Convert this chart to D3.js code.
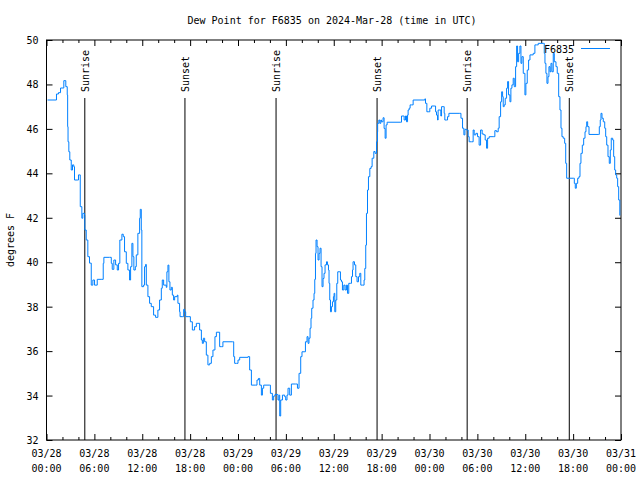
<!DOCTYPE html>
<html><head><meta charset="utf-8">
<script src="https://cdn.jsdelivr.net/npm/d3@7"></script>
<style>
body{margin:0;background:#fff;}
svg text{font-family:"DejaVu Sans Mono",monospace;font-size:10px;fill:#000;}
</style></head>
<body><svg id="c" width="640" height="480"></svg>
<script>
const title = "Dew Point for F6835 on 2024-Mar-28 (time in UTC)";
const seriesName = "F6835";
const yLabel = "degrees F";
const startISO = "2024-03-28T00:00:00Z";
const yTicks = [32,34,36,38,40,42,44,46,48,50];
// hours since 03/28 00:00 UTC
const hours = [0.13,1.22,1.25,1.5,1.76,2.17,2.42,2.6,2.65,2.7,2.8,2.92,3.1,3.26,3.42,3.51,3.85,4.01,4.18,4.23,4.43,4.55,4.77,4.8,4.98,5.18,5.39,5.61,5.81,6.02,6.36,6.94,7.11,7.19,7.9,8.12,8.24,8.44,8.66,8.87,9.03,9.19,9.45,9.62,9.78,10.0,10.2,10.41,10.54,10.7,10.83,10.95,11.13,11.25,11.45,11.67,11.75,11.88,11.95,12.17,12.29,12.42,12.51,12.71,12.92,13.13,13.42,13.67,13.96,14.17,14.39,14.51,14.68,15.01,15.09,15.22,15.34,15.47,15.64,15.77,15.93,16.06,16.39,16.47,16.68,16.74,17.02,17.19,17.31,17.44,17.85,18.03,18.28,18.56,18.78,18.98,19.19,19.41,19.53,19.66,19.82,20.03,20.23,20.45,20.66,20.86,21.11,21.29,21.49,21.7,21.91,22.11,23.29,23.46,23.58,23.8,24.0,24.21,25.25,25.46,25.68,26.22,26.38,26.56,26.72,26.93,27.06,27.22,27.97,28.06,28.31,28.47,28.64,28.91,29.01,29.14,29.23,29.35,29.57,29.85,29.98,30.14,30.27,30.48,30.69,31.23,31.45,31.65,31.86,32.02,32.28,32.45,32.65,32.78,32.9,33.03,33.15,33.24,33.4,33.53,33.62,33.71,33.78,33.91,34.03,34.16,34.28,34.41,34.53,34.66,34.78,34.91,35.09,35.21,35.34,35.41,35.5,35.59,35.71,35.84,35.96,36.04,36.13,36.25,36.38,36.5,36.67,36.84,36.97,37.09,37.26,37.42,37.59,37.72,37.88,38.1,38.22,38.35,38.42,38.6,38.76,38.92,39.1,39.26,39.39,39.6,39.8,39.89,40.01,40.1,40.23,40.35,40.52,40.68,40.81,41.02,41.18,41.36,41.48,41.5,41.65,41.77,41.9,41.98,42.18,42.31,42.44,42.56,42.69,44.41,44.49,44.69,44.82,44.99,45.12,45.25,45.32,45.45,45.57,45.75,45.95,47.42,47.5,47.67,47.83,48.04,48.26,48.67,48.76,48.88,49.01,49.08,49.3,49.42,49.51,49.71,49.84,49.92,50.14,50.26,50.43,51.72,51.94,52.14,52.31,52.44,52.65,52.85,52.97,53.27,53.47,53.6,53.81,54.02,54.22,54.4,54.6,54.81,54.98,55.15,55.28,55.48,55.98,56.19,56.41,56.61,56.73,56.91,57.04,57.16,57.24,57.36,57.49,57.66,57.79,57.91,58.08,58.2,58.33,58.49,58.62,58.79,58.92,59.04,59.17,59.33,59.46,59.58,59.75,59.96,60.08,60.25,60.42,60.59,61.0,61.21,61.43,61.63,62.26,62.38,62.47,62.59,62.72,62.85,62.97,63.1,63.22,63.35,63.51,63.64,63.85,64.01,64.19,64.35,64.48,64.6,64.76,64.94,65.07,65.19,66.02,66.15,66.27,66.4,66.57,66.73,66.86,66.98,67.15,67.32,67.49,67.61,67.7,67.82,67.99,69.15,69.28,69.4,69.49,69.62,69.78,69.96,70.08,70.21,70.37,70.53,70.66,70.78,70.96,71.08,71.21,71.33,71.46,71.58,71.71,71.85];
const dewF = [47.3,47.3,47.57,47.63,47.84,48.17,47.9,47.53,46.1,45.42,44.97,44.6,44.15,44.38,44.3,43.7,43.7,43.93,43.93,42.5,41.98,42.2,42.12,41.45,41.0,40.25,39.96,38.97,39.2,38.97,39.23,39.23,39.95,40.22,40.22,39.95,39.68,40.1,39.88,39.65,39.95,41.0,41.26,41.15,40.47,39.95,39.65,39.2,39.8,40.85,40.25,39.65,39.8,40.33,41.3,41.98,42.38,41.45,38.9,38.97,39.8,39.9,38.97,38.45,38.15,38.0,37.62,37.52,37.85,38.3,38.83,39.2,38.97,38.87,39.57,39.87,39.12,38.75,38.87,38.52,38.3,38.45,38.52,38.15,37.77,37.55,37.55,37.88,37.77,37.55,37.55,37.32,36.95,37.1,37.25,37.25,36.95,36.5,36.35,36.58,36.42,35.82,35.38,35.45,35.75,36.05,36.65,36.85,36.85,36.2,36.2,36.42,36.42,35.75,35.45,35.45,35.6,35.72,35.75,35.15,34.47,34.47,34.7,34.77,34.47,34.02,34.33,34.47,34.47,34.1,33.8,33.98,34.05,34.05,33.8,34.02,33.08,33.8,34.02,33.95,33.8,34.02,34.33,34.02,34.52,34.52,34.33,35.0,35.75,35.97,35.97,36.42,36.65,36.35,36.58,37.03,37.48,37.93,38.3,38.6,39.23,40.4,41.0,40.7,40.1,40.4,40.63,39.8,38.9,39.27,39.5,39.88,40.02,39.88,39.65,39.05,38.3,37.77,38.0,38.22,38.45,38.6,37.77,38.3,39.05,39.57,39.57,39.2,39.12,38.75,38.97,38.75,38.97,38.6,39.05,39.05,39.35,39.65,40.02,39.88,39.35,39.12,39.35,39.5,38.97,38.97,39.2,39.72,40.77,42.2,43.25,43.85,44.22,44.3,44.68,44.98,44.9,45.42,45.87,46.25,46.4,46.25,46.4,46.32,46.5,46.02,45.58,46.18,46.3,46.3,46.58,46.58,46.4,46.58,46.32,46.62,46.85,46.93,47.08,47.08,47.3,47.35,47.15,46.77,46.77,46.93,47.03,47.03,46.77,46.62,46.4,46.85,46.85,46.58,47.0,47.0,46.7,46.4,46.4,46.55,46.7,46.7,46.48,46.03,45.73,45.98,45.95,45.65,45.42,45.42,45.95,45.73,45.8,45.65,45.27,45.95,45.77,45.73,45.5,45.13,45.58,45.65,45.65,45.92,45.87,46.03,46.55,47.22,47.67,47.45,47.0,47.08,47.38,47.83,48.13,47.53,47.22,47.83,47.98,48.28,47.9,48.8,49.73,49.02,49.4,49.73,48.95,49.25,48.5,47.53,48.05,48.65,49.1,49.33,49.4,49.78,49.78,49.85,49.85,49.4,48.95,48.5,48.05,48.35,48.8,48.57,48.95,48.57,49.4,49.02,48.8,48.5,47.45,46.85,46.03,45.65,45.58,45.35,44.45,43.78,43.78,43.55,43.33,43.55,43.78,43.85,44.45,44.9,45.27,45.58,45.87,46.1,46.32,46.1,45.75,45.75,46.1,46.4,46.7,46.48,46.32,46.03,45.65,45.27,44.75,44.45,45.05,45.58,45.5,44.75,44.15,43.93,43.78,43.4,42.8,42.1];
const sunHours = [4.8,17.35,28.77,41.43,52.72,65.52];
const sunNames = ["Sunrise","Sunset","Sunrise","Sunset","Sunrise","Sunset"];

const svg = d3.select("#c");
const L=46.5, R=621, T=40, B=440;
const t0 = new Date(startISO);
const toDate = h => new Date(t0.getTime()+h*3600000);
const x = d3.scaleUtc().domain([t0, toDate(72)]).range([L,R]);
const y = d3.scaleLinear().domain([32,50]).range([B,T]);

// frame
svg.append("rect").attr("x",L).attr("y",T).attr("width",R-L).attr("height",B-T)
  .attr("fill","none").attr("stroke","#000").attr("stroke-width",1);

// x ticks
const major = d3.range(0,73,6).map(toDate);
const minor = d3.range(0,73,2).filter(h=>h%6!==0).map(toDate);
const fmtD = d3.utcFormat("%m/%d"), fmtT = d3.utcFormat("%H:%M");
const gx = svg.append("g").attr("transform",`translate(0,${B})`)
  .call(d3.axisBottom(x).tickValues(major).tickSize(-6).tickFormat(""));
gx.select(".domain").remove();
const gxm = svg.append("g").attr("transform",`translate(0,${B})`)
  .call(d3.axisBottom(x).tickValues(minor).tickSize(-3).tickFormat(""));
gxm.select(".domain").remove();
const gxt = svg.append("g").attr("transform",`translate(0,${T})`)
  .call(d3.axisTop(x).tickValues(major).tickSize(-6).tickFormat(""));
gxt.select(".domain").remove();
const gxtm = svg.append("g").attr("transform",`translate(0,${T})`)
  .call(d3.axisTop(x).tickValues(minor).tickSize(-3).tickFormat(""));
gxtm.select(".domain").remove();
major.forEach(d=>{
  svg.append("text").attr("x",x(d)).attr("y",457).attr("text-anchor","middle").text(fmtD(d));
  svg.append("text").attr("x",x(d)).attr("y",472).attr("text-anchor","middle").text(fmtT(d));
});

// y ticks
const gy = svg.append("g").attr("transform",`translate(${L},0)`)
  .call(d3.axisLeft(y).tickValues(yTicks).tickSize(-6).tickPadding(8).tickFormat(d3.format("d")));
gy.select(".domain").remove();
gy.selectAll("text").attr("font-family",null).attr("font-size",null).attr("dy","0.35em");
const gyr = svg.append("g").attr("transform",`translate(${R},0)`)
  .call(d3.axisRight(y).tickValues(yTicks).tickSize(-6).tickFormat(""));
gyr.select(".domain").remove();
svg.selectAll(".tick line").attr("stroke","#000");

// labels
svg.append("text").attr("x",332).attr("y",24).attr("text-anchor","middle").text(title);
svg.append("text").attr("transform","translate(14,240) rotate(-90)").attr("text-anchor","middle").text(yLabel);

// sunrise/sunset
sunHours.forEach((h,i)=>{
  const xx = x(toDate(h));
  svg.append("line").attr("x1",xx).attr("x2",xx).attr("y1",98).attr("y2",B)
    .attr("stroke","#000").attr("stroke-width",1);
  svg.append("text").attr("transform",`translate(${xx+4},92) rotate(-90)`)
    .attr("text-anchor","start").text(sunNames[i]);
});

// series
const data = hours.map((h,i)=>({t:toDate(h), v:dewF[i]}));
svg.append("path").datum(data)
  .attr("fill","none").attr("stroke","#0080ff").attr("stroke-width",1)
  .attr("d", d3.line().x(d=>x(d.t)).y(d=>y(d.v)).curve(d3.curveStepAfter));

// legend
svg.append("text").attr("x",574).attr("y",53).attr("text-anchor","end").text(seriesName);
svg.append("line").attr("x1",581).attr("x2",610).attr("y1",48.5).attr("y2",48.5)
  .attr("stroke","#0080ff").attr("stroke-width",1);
</script></body></html>
